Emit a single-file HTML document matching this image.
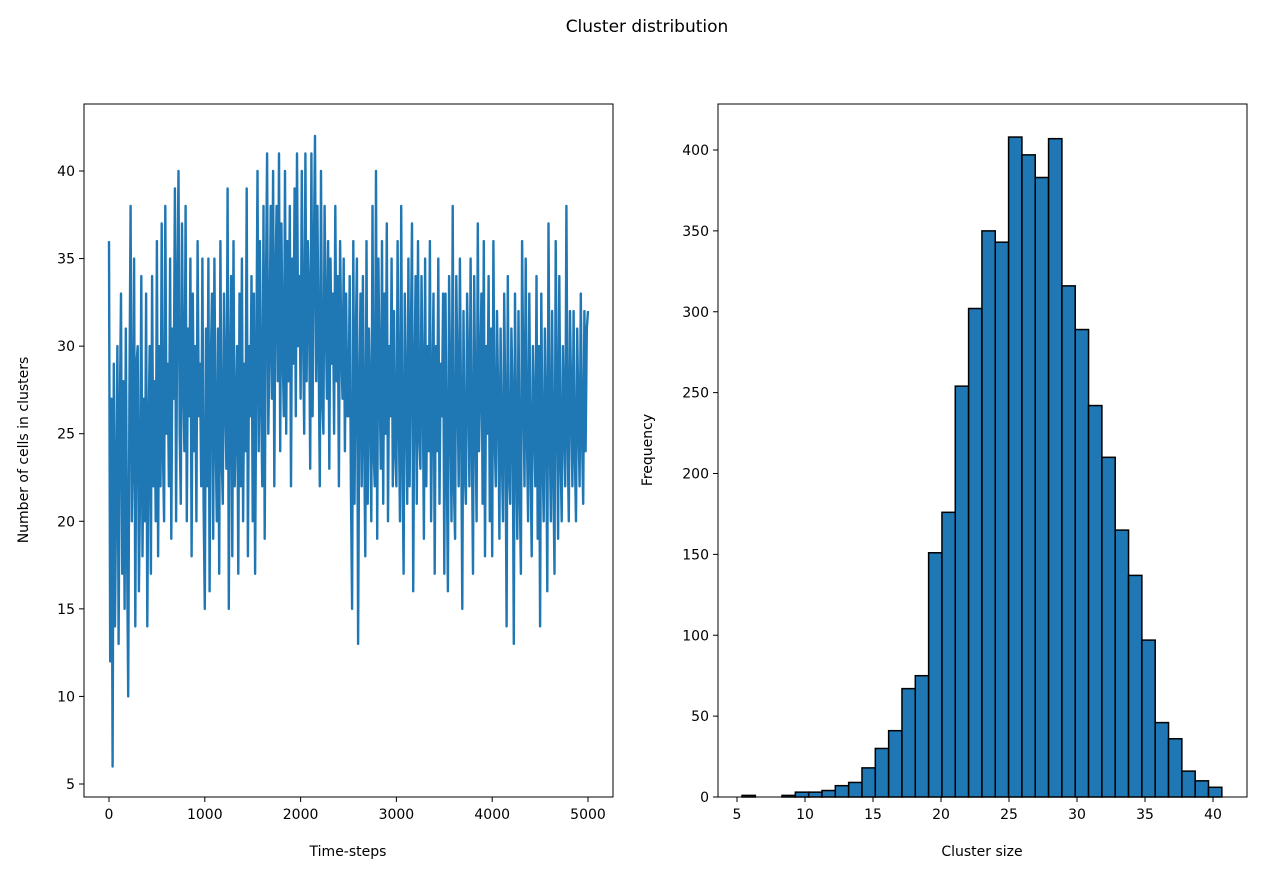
<!DOCTYPE html>
<html><head><meta charset="utf-8"><style>
body{margin:0;background:#fff;}
svg{display:block;font-family:"DejaVu Sans","Liberation Sans",sans-serif;}
</style></head><body>
<svg id="fig" width="1261" height="875" xmlns="http://www.w3.org/2000/svg">
<rect width="1261" height="875" fill="#fff"/>
<text x="647" y="32" font-size="17" text-anchor="middle">Cluster distribution</text>
<g id="left"></g>
<g id="right"></g>
</svg>
<script>
const lineValues = [
36,12,27,6,29,14,22,30,13,26,33,17,28,15,31,19,10,27,38,20,24,35,14,29,30,16,22,34,18,27,20,33,14,25,30,17,34,22,28,20,
36,18,30,22,37,24,20,38,25,29,22,35,19,31,27,39,20,33,40,25,21,37,28,24,38,20,31,26,35,18,33,24,30,20,36,26,29,22,35,21,
15,31,22,35,16,29,33,19,35,25,20,31,17,36,24,21,33,27,23,39,15,28,34,18,36,22,26,30,17,33,22,35,20,29,24,39,18,30,26,34,
20,33,17,29,40,24,36,27,22,38,19,33,41,25,30,38,27,40,22,34,38,28,41,24,37,30,26,40,25,36,28,38,22,35,29,39,26,41,30,34,
27,40,31,25,41,28,36,33,23,41,26,35,42,28,38,30,22,40,27,25,38,32,27,36,23,35,29,33,25,38,28,34,22,36,30,27,35,24,33,26,
26,34,22,15,36,21,30,35,13,27,33,22,34,25,18,36,21,31,27,20,38,24,22,40,19,35,28,23,36,21,33,25,37,20,30,26,35,22,32,24,
22,36,26,20,38,24,17,33,27,21,35,22,30,37,16,28,34,21,36,25,23,34,28,19,35,22,30,24,36,20,27,33,17,30,24,35,21,29,26,33,
17,33,24,16,34,27,20,38,22,19,34,28,22,35,26,15,32,23,21,33,28,22,35,25,17,34,26,20,37,24,28,33,21,36,18,30,25,34,20,31,
18,36,25,22,32,27,19,31,24,20,33,26,14,34,23,21,31,27,13,33,25,19,32,22,17,36,28,22,35,25,20,33,24,18,30,26,22,34,19,30,
14,33,24,20,31,26,16,37,25,20,32,23,17,36,27,19,34,24,20,30,26,22,38,25,20,32,27,22,32,24,20,31,26,22,33,25,21,32,24,31,32];
const lineStep = 12.5;
const leftXTicks = [0,1000,2000,3000,4000,5000];
const leftYTicks = [5,10,15,20,25,30,35,40];
const histCounts = [1,0,0,1,3,3,4,7,9,18,30,41,67,75,151,176,254,302,350,343,408,397,383,407,316,289,242,210,165,137,97,46,36,16,10,6];
const binStart = 5.37;
const binWidth = 0.98;
const rightXTicks = [5,10,15,20,25,30,35,40];
const rightYTicks = [0,50,100,150,200,250,300,350,400];

const NS="http://www.w3.org/2000/svg";
function mk(parent,tag,attrs){const e=document.createElementNS(NS,tag);for(const k in attrs)e.setAttribute(k,attrs[k]);parent.appendChild(e);return e;}
const FS=14;

// left axes
const L=document.getElementById('left');
const lx=v=>109+(v/5000)*479;
const ly=v=>784-(v-5)*(613/35);
let d='';
lineValues.forEach((v,i)=>{d+=(i?'L':'M')+lx(i*lineStep).toFixed(1)+','+ly(v).toFixed(1);});
const path=mk(L,'path',{d:d,fill:'none',stroke:'#1f77b4','stroke-width':2.4,'stroke-linejoin':'round'});


const lf=mk(L,'rect',{x:84,y:104,width:529,height:693,fill:'none',stroke:'#000','stroke-width':1});


leftXTicks.forEach(t=>{const x=lx(t);mk(L,'line',{x1:x,x2:x,y1:797,y2:802,stroke:'#000'});
 const tx=mk(L,'text',{x:x,y:819,'font-size':FS,'text-anchor':'middle'});tx.textContent=t;
 
 });
leftYTicks.forEach(t=>{const y=ly(t);mk(L,'line',{x1:79,x2:84,y1:y,y2:y,stroke:'#000'});
 const tx=mk(L,'text',{x:75,y:y+5,'font-size':FS,'text-anchor':'end'});tx.textContent=t;
 
 });
let t1=mk(L,'text',{x:348,y:856,'font-size':FS,'text-anchor':'middle'});t1.textContent='Time-steps';


let t2=mk(L,'text',{x:28,y:450,'font-size':FS,'text-anchor':'middle',transform:'rotate(-90 28 450)'});t2.textContent='Number of cells in clusters';



// right axes
const R=document.getElementById('right');
const rx=v=>737+(v-5)*13.6;
const ry=v=>797-v*(647/400);
histCounts.forEach((c,i)=>{if(c<=0)return;const x0=rx(binStart+i*binWidth),x1=rx(binStart+(i+1)*binWidth);
 const b=mk(R,'rect',{x:x0,y:ry(c),width:x1-x0,height:797-ry(c),fill:'#1f77b4',stroke:'#000','stroke-width':1.5});
 
 });
const rf=mk(R,'rect',{x:718,y:104,width:529,height:693,fill:'none',stroke:'#000','stroke-width':1});


rightXTicks.forEach(t=>{const x=rx(t);mk(R,'line',{x1:x,x2:x,y1:797,y2:802,stroke:'#000'});
 const tx=mk(R,'text',{x:x,y:819,'font-size':FS,'text-anchor':'middle'});tx.textContent=t;
 
 });
rightYTicks.forEach(t=>{const y=ry(t);mk(R,'line',{x1:713,x2:718,y1:y,y2:y,stroke:'#000'});
 const tx=mk(R,'text',{x:709,y:y+5,'font-size':FS,'text-anchor':'end'});tx.textContent=t;
 
 });
let t3=mk(R,'text',{x:982,y:856,'font-size':FS,'text-anchor':'middle'});t3.textContent='Cluster size';


let t4=mk(R,'text',{x:652,y:450,'font-size':FS,'text-anchor':'middle',transform:'rotate(-90 652 450)'});t4.textContent='Frequency';


</script>
</body></html>
